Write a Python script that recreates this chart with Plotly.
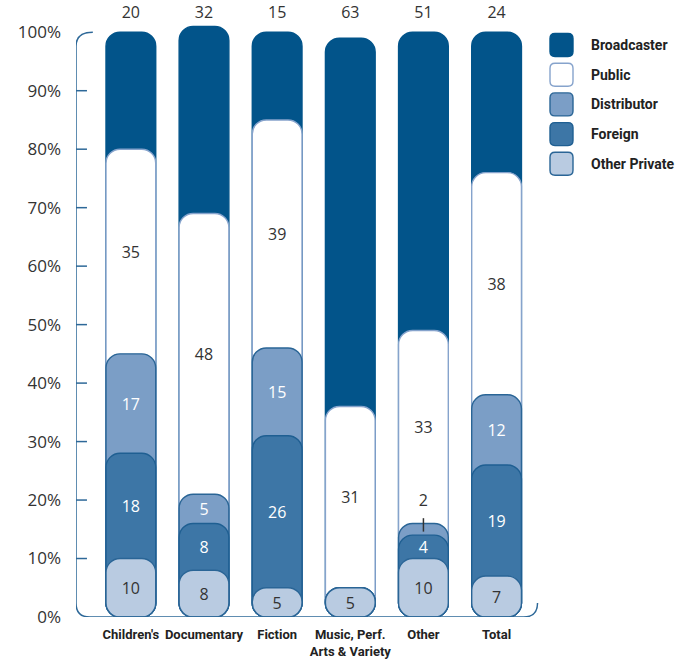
import plotly.graph_objects as go

# ---------------- data ----------------
categories = ["Children's", "Documentary", "Fiction", "Music, Perf.<br>Arts & Variety", "Other", "Total"]
series_names = ["Broadcaster", "Public", "Distributor", "Foreign", "Other Private"]
broadcaster = [20, 32, 15, 63, 51, 24]
public = [35, 48, 39, 31, 33, 38]
distributor = [17, 5, 15, 0, 2, 12]
foreign = [18, 8, 26, 0, 4, 19]
other_private = [10, 8, 5, 5, 10, 7]
y_tick_vals = [0, 10, 20, 30, 40, 50, 60, 70, 80, 90, 100]
y_tick_text = [f"{v}%" for v in y_tick_vals]

# ---------------- styles ----------------
fill = {"Broadcaster": "#02548a", "Public": "#ffffff", "Distributor": "#7b9ec6",
        "Foreign": "#3d76a6", "Other Private": "#b9cbe1"}
outline = {"Broadcaster": "#02548a", "Public": "#86a3cc", "Distributor": "#2a6596",
           "Foreign": "#1f5f92", "Other Private": "#2a6596"}
label_color = {"Broadcaster": "#333333", "Public": "#333333", "Distributor": "#ffffff",
               "Foreign": "#ffffff", "Other Private": "#333333"}
DARK = "#333333"
AXIS = "#2d6898"
NUM_FONT = "Open Sans, Lato, sans-serif"
BOLD_FONT = "Roboto, Liberation Sans, sans-serif"

# stacking order bottom -> top
stack_order = ["Other Private", "Foreign", "Distributor", "Public", "Broadcaster"]
values = {"Broadcaster": broadcaster, "Public": public, "Distributor": distributor,
          "Foreign": foreign, "Other Private": other_private}

n = len(categories)
xs = list(range(n))
tops, bottoms = {}, {}
running = [0] * n
for s in stack_order:
    bottoms[s] = running[:]
    running = [r + v for r, v in zip(running, values[s])]
    tops[s] = running[:]

fig = go.Figure()
BAR_W = 0.68
# draw tallest (cumulative) first so lower segments overlap on top
for s in reversed(stack_order):
    fig.add_trace(go.Bar(
        x=xs, y=tops[s], base=0, width=BAR_W, name=s, showlegend=False,
        marker=dict(color=fill[s], line=dict(color=outline[s], width=1.4), cornerradius=14),
        hoverinfo="skip"))

# segment labels
shapes = []
for s in stack_order:
    if s == "Broadcaster":
        continue
    lx, ly, lt, lc = [], [], [], []
    for i in xs:
        v = values[s][i]
        if v == 0:
            continue
        if v < 3:
            lx.append(i); ly.append(tops[s][i] + 3.6); lt.append(str(v)); lc.append(DARK)
            shapes.append(dict(type="line", xref="x", yref="y", x0=i, x1=i,
                               y0=tops[s][i] + 0.9, y1=tops[s][i] - 1.4,
                               line=dict(color=DARK, width=1.5), layer="above"))
        else:
            lx.append(i); ly.append((bottoms[s][i] + tops[s][i]) / 2 - 0.4)
            lt.append(str(v)); lc.append(label_color[s])
    fig.add_trace(go.Scatter(x=lx, y=ly, text=lt, mode="text", showlegend=False,
                             textfont=dict(family=NUM_FONT, size=16, color=lc),
                             cliponaxis=False, hoverinfo="skip"))

# broadcaster values above the bars
fig.add_trace(go.Scatter(x=xs, y=[103.2] * n, text=[str(v) for v in broadcaster], mode="text",
                         showlegend=False, cliponaxis=False, hoverinfo="skip",
                         textfont=dict(family=NUM_FONT, size=16, color=DARK)))

# ---------------- axis decoration ----------------
XL, XR = -0.75, 5.58
rx, ry = 0.19, 2.4
axis_path = (f"M {XL + 0.23},100 Q {XL},100 {XL},{100 - ry} "
             f"L {XL},{ry} Q {XL},0 {XL + rx},0 "
             f"L {XR - 0.02 - rx},0 Q {XR - 0.02},0 {XR - 0.02},{ry}")
shapes.append(dict(type="path", xref="x", yref="y", path=axis_path,
                   line=dict(color=AXIS, width=1.5), layer="above"))
for v in y_tick_vals[1:-1]:
    shapes.append(dict(type="line", xref="x", yref="y", x0=XL, x1=XL + 0.15, y0=v, y1=v,
                       line=dict(color=AXIS, width=1.5), layer="above"))

# ---------------- manual legend ----------------
ML, MR, MT, MB = 76, 155, 3, 47
W, H = 694, 664
PW, PH = W - ML - MR, H - MT - MB


def px(xp):
    return (xp - ML) / PW


def py(yp):
    return (H - MB - yp) / PH


annotations = []
for k, s in enumerate(series_names):
    cy = 45 + k * 29.7
    x0, x1 = 550, 573
    y0, y1 = cy - 11.5, cy + 11.5
    r = 5
    path = (f"M {px(x0 + r)},{py(y0)} L {px(x1 - r)},{py(y0)} Q {px(x1)},{py(y0)} {px(x1)},{py(y0 + r)} "
            f"L {px(x1)},{py(y1 - r)} Q {px(x1)},{py(y1)} {px(x1 - r)},{py(y1)} "
            f"L {px(x0 + r)},{py(y1)} Q {px(x0)},{py(y1)} {px(x0)},{py(y1 - r)} "
            f"L {px(x0)},{py(y0 + r)} Q {px(x0)},{py(y0)} {px(x0 + r)},{py(y0)} Z")
    shapes.append(dict(type="path", xref="paper", yref="paper", path=path,
                       fillcolor=fill[s], line=dict(color=outline[s], width=1.4)))
    annotations.append(dict(xref="paper", yref="paper", x=px(589), y=py(cy), text=f"<b>{s}</b>",
                            showarrow=False, xanchor="left", yanchor="middle",
                            font=dict(family=BOLD_FONT, size=14, color="#222222")))

fig.update_layout(
    width=W, height=H, autosize=False,
    margin=dict(l=ML, r=MR, t=MT, b=MB),
    paper_bgcolor="white", plot_bgcolor="white",
    barmode="overlay",
    shapes=shapes, annotations=annotations,
    xaxis=dict(range=[XL, XR], showgrid=False, zeroline=False, showline=False,
               tickmode="array", tickvals=xs, ticktext=[f"<b>{c}</b>" for c in categories],
               ticks="", ticklabelstandoff=8, tickangle=0, automargin=False,
               tickfont=dict(family=BOLD_FONT, size=13, color="#222222")),
    yaxis=dict(range=[0, 105], showgrid=False, zeroline=False, showline=False,
               tickmode="array", tickvals=y_tick_vals, ticktext=y_tick_text,
               ticks="", ticklabelstandoff=14, automargin=False,
               tickfont=dict(family=NUM_FONT, size=17, color=DARK)),
    showlegend=False,
)

fig.write_html("out.html")
